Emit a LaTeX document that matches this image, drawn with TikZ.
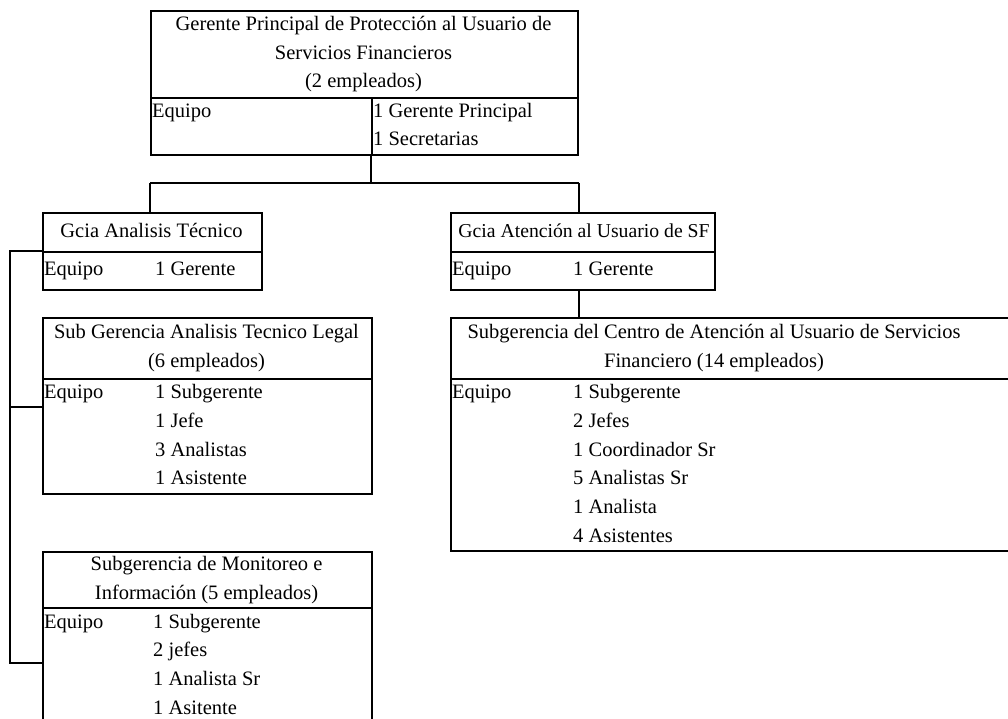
\documentclass[tikz,border=0pt]{standalone}
\usepackage{fontspec}
\setmainfont{Liberation Serif}
\begin{document}
\begin{tikzpicture}[x=1pt,y=-1pt,
  cell/.style={draw, line width=2pt, rectangle, inner sep=0pt, anchor=north west},
  txt/.style={inner sep=0pt, font=\fontsize{20.5}{28.7}\selectfont},
  ttl/.style={txt, align=center, anchor=center},
  lst/.style={txt, align=left, anchor=north west},
  one/.style={txt, anchor=west},
  link/.style={line width=2pt}]
\useasboundingbox (0,0) rectangle (1008,719);
\clip (0,0) rectangle (1008,719);

% ---- top box
\node[cell, minimum width=427pt, minimum height=87pt] (gpr) at (150,10) {};
\node[cell, minimum width=221pt, minimum height=57pt] (gprL) at (150,97) {};
\node[cell, minimum width=206pt, minimum height=57pt] (gprR) at (371,97) {};
\node[ttl] (gprT) at (363.5,53.5) {\strut Gerente Principal de Protección al Usuario de\\\strut Servicios Financieros\\\strut (2 empleados)};
\node[lst] (gprE) at (152,97) {\strut Equipo};
\node[lst] (gprI) at (373,97) {\strut 1 Gerente Principal\\\strut 1 Secretarias};

% ---- Gcia Analisis Tecnico
\node[cell, minimum width=219pt, minimum height=39pt] (gAT) at (42,212) {};
\node[cell, minimum width=219pt, minimum height=38pt] (gATb) at (42,251) {};
\node[ttl] (gATT) at (151.5,231.5) {\strut Gcia Analisis Técnico};
\node[one] (gATE) at (44,270) {\strut Equipo};
\node[one] (gATI) at (155,270) {\strut 1 Gerente};

% ---- Sub Gerencia Analisis Tecnico Legal
\node[cell, minimum width=329pt, minimum height=61pt] (leg) at (42,317) {};
\node[cell, minimum width=329pt, minimum height=115pt] (legB) at (42,378) {};
\node[ttl] (legT) at (206.5,347.5) {\strut Sub Gerencia Analisis Tecnico Legal\\\strut (6 empleados)};
\node[lst] (legE) at (44,378.5) {\strut Equipo};
\node[lst] (legI) at (155,378.5) {\strut 1 Subgerente\\\strut 1 Jefe\\\strut 3 Analistas\\\strut 1 Asistente};

% ---- Subgerencia de Monitoreo
\node[cell, minimum width=329pt, minimum height=56pt] (mon) at (42,551) {};
\node[cell, minimum width=329pt, minimum height=140pt] (monB) at (42,607) {};
\node[ttl] (monT) at (206.5,579) {\strut Subgerencia de Monitoreo e\\\strut Información (5 empleados)};
\node[lst] (monE) at (44,608) {\strut Equipo};
\node[lst] (monI) at (153,608) {\strut 1 Subgerente\\\strut 2 jefes\\\strut 1 Analista Sr\\\strut 1 Asitente};

% ---- Gcia Atencion al Usuario de SF
\node[cell, minimum width=264pt, minimum height=39pt] (gAU) at (450,212) {};
\node[cell, minimum width=264pt, minimum height=38pt] (gAUb) at (450,251) {};
\node[ttl, font=\fontsize{19.7}{28.7}\selectfont] (gAUT) at (584,231.5) {\strut Gcia Atención al Usuario de SF};
\node[one] (gAUE) at (452,270) {\strut Equipo};
\node[one] (gAUI) at (573,270) {\strut 1 Gerente};

% ---- Subgerencia del Centro
\node[cell, minimum width=600pt, minimum height=61pt] (sC) at (450,317) {};
\node[cell, minimum width=600pt, minimum height=172pt] (sCB) at (450,378) {};
\node[ttl] (sCT) at (714,347.5) {\strut Subgerencia del Centro de Atención al Usuario de Servicios\\\strut Financiero (14 empleados)};
\node[lst] (sCE) at (452,378.5) {\strut Equipo};
\node[lst] (sCI) at (573,378.5) {\strut 1 Subgerente\\\strut 2 Jefes\\\strut 1 Coordinador Sr\\\strut 5 Analistas Sr\\\strut 1 Analista\\\strut 4 Asistentes};

% ---- connectors
\coordinate (j) at (371,183);
\draw[link] (gprR.south west) -- (j);
\draw[link] (gpr.west |- j) -- (gpr.east |- j);
\draw[link] (gpr.west |- j) -- (gpr.west |- gAT.north);
\draw[link] (gpr.east |- j) -- (gpr.east |- gAU.north);
\draw[link] (gAUb.south -| gpr.east) -- (sC.north -| gpr.east);

\coordinate (bk1) at (10,407);
\coordinate (bk2) at (10,663);
\draw[link] (gATb.north west) -| (bk2) -- (bk2 -| monB.west);
\draw[link] (bk1) -- (bk1 -| legB.west);
\end{tikzpicture}
\end{document}
